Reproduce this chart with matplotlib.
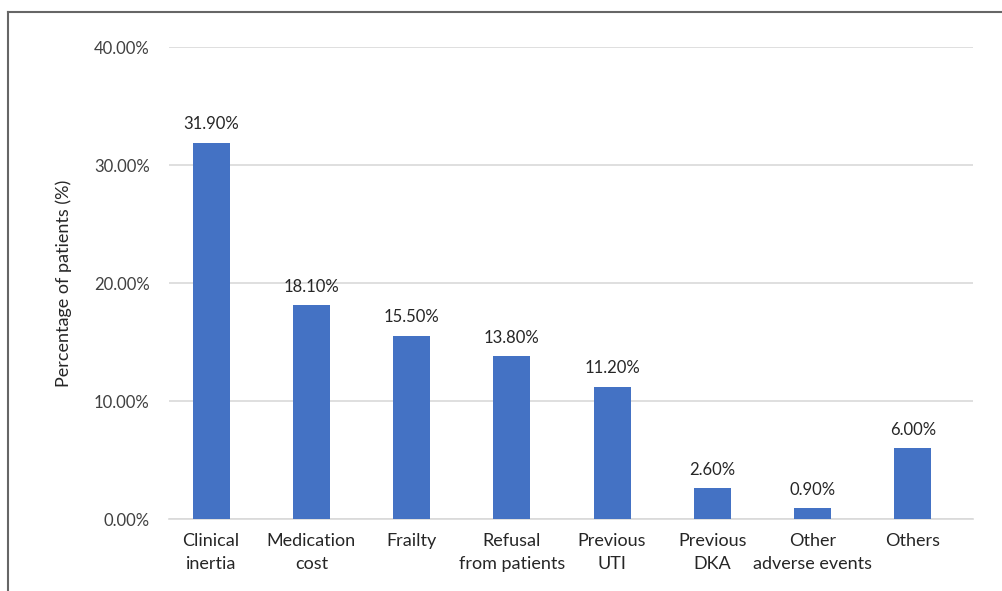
import numpy as np
import matplotlib.pyplot as plt
from matplotlib.lines import Line2D
from matplotlib.ticker import PercentFormatter

plt.rcParams['font.family'] = ['Lato', 'DejaVu Sans']

# Datos
categorias = ["Clinical\ninertia", "Medication\ncost", "Frailty",
              "Refusal\nfrom patients", "Previous\nUTI", "Previous\nDKA",
              "Other\nadverse events", "Others"]
porcentajes = [31.9, 18.1, 15.5, 13.8, 11.2, 2.6, 0.9, 6.0]

fig = plt.figure(figsize=(10.03, 5.91), dpi=100)
ax = fig.add_axes([169/1003, 1 - 519/591, 804/1003, 472/591])

x = np.arange(len(categorias))
barras = ax.bar(x, porcentajes, width=0.37, color="#4472C4", zorder=3)

# etiquetas sobre las barras
for xi, v in zip(x, porcentajes):
    ax.text(xi, v + 0.9, f"{v:.2f}%", ha="center", va="bottom",
            fontsize=12, color="#262626")

ax.set_xlim(-0.42, len(categorias) - 1 + 0.6)
ax.set_ylim(0, 40)
ax.set_yticks([0, 10, 20, 30, 40])
ax.yaxis.set_major_formatter(PercentFormatter(decimals=2))
ax.set_xticks(x)
ax.set_xticklabels(categorias, fontsize=13, color="#262626", linespacing=1.55)
ax.tick_params(axis="y", labelsize=12, labelcolor="#404040", length=0, pad=14)
ax.tick_params(axis="x", length=0, pad=10)

ax.grid(axis="y", color="#D9D9D9", linewidth=1.2, zorder=0)
for s in ["top", "right", "left"]:
    ax.spines[s].set_visible(False)
ax.spines["bottom"].set_color("#D9D9D9")
ax.spines["bottom"].set_linewidth(1.2)

ax.set_ylabel("Percentage of patients (%)", fontsize=13, color="#262626", labelpad=16)

# marco recortado (solo arriba e izquierda)
fig.add_artist(Line2D([8/1003, 1], [1 - 12/591, 1 - 12/591], color="#666666", linewidth=1.5))
fig.add_artist(Line2D([8/1003, 8/1003], [0, 1 - 12/591], color="#666666", linewidth=1.5))

fig.savefig("out.png", dpi=100)
